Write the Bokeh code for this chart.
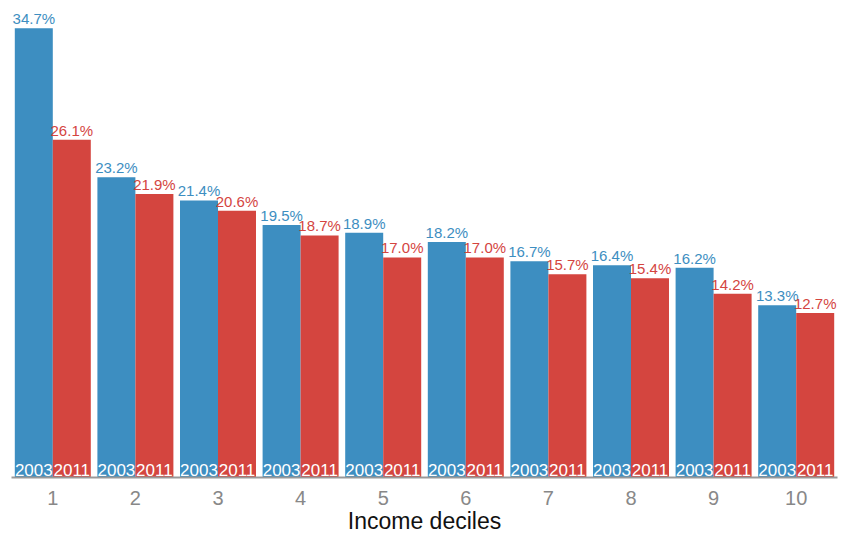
from bokeh.plotting import figure
from bokeh.models import ColumnDataSource, Range1d, FixedTicker
from bokeh.core.properties import value
from bokeh.embed import file_html
from bokeh.resources import INLINE

deciles = [1, 2, 3, 4, 5, 6, 7, 8, 9, 10]
share_2003 = [34.7, 23.2, 21.4, 19.5, 18.9, 18.2, 16.7, 16.4, 16.2, 13.3]
share_2011 = [26.1, 21.9, 20.6, 18.7, 17.0, 17.0, 15.7, 15.4, 14.2, 12.7]
years = ["2003", "2011"]
x_title = "Income deciles"

BLUE = "#3d8ec1"
RED = "#d4453f"
FONT = "Liberation Sans"

bar_w = 0.46
offset = bar_w / 2

p = figure(width=841, height=536, output_backend="svg", toolbar_location=None,
           x_range=Range1d(0.5, 10.5), y_range=Range1d(0, 36.85),
           min_border_left=11, min_border_right=4, min_border_top=0,
           min_border_bottom=58)

src_a = ColumnDataSource(dict(
    x=[d - offset for d in deciles], top=share_2003,
    lab=[f"{v:.1f}%" for v in share_2003], year=[years[0]] * len(deciles)))
src_b = ColumnDataSource(dict(
    x=[d + offset for d in deciles], top=share_2011,
    lab=[f"{v:.1f}%" for v in share_2011], year=[years[1]] * len(deciles)))

for src, col in ((src_a, BLUE), (src_b, RED)):
    p.vbar(x="x", top="top", bottom=0, width=bar_w, source=src,
           fill_color=col, line_color=None)
    # value above each bar
    p.text(x="x", y="top", text="lab", source=src, text_align="center",
           text_baseline="bottom", y_offset=-1, text_color=col,
           text_font=value(FONT), text_font_size="15px")
    # year inside each bar, at its foot
    p.text(x="x", y=0, text="year", source=src, text_align="center",
           text_baseline="bottom", y_offset=-2, text_color="white",
           text_font=value(FONT), text_font_size="17px")

p.yaxis.visible = False
p.xgrid.visible = False
p.ygrid.visible = False
p.outline_line_color = None

xa = p.xaxis[0]
xa.ticker = FixedTicker(ticks=deciles)
xa.major_tick_line_color = None
xa.minor_tick_line_color = None
xa.major_tick_out = 0
xa.major_tick_in = 0
xa.axis_line_color = "#999999"
xa.axis_line_width = 2
xa.major_label_text_color = "#888888"
xa.major_label_text_font = FONT
xa.major_label_text_font_size = "20px"
xa.major_label_standoff = 13
xa.axis_label = x_title
xa.axis_label_text_font = FONT
xa.axis_label_text_font_style = "normal"
xa.axis_label_text_font_size = "23px"
xa.axis_label_text_color = "#111111"
xa.axis_label_standoff = 0

open("out.html", "w").write(file_html(p, INLINE))
